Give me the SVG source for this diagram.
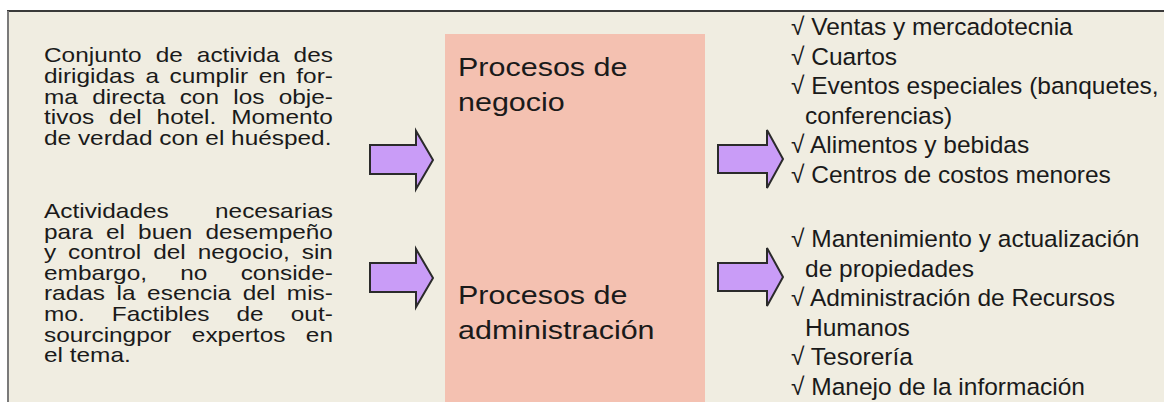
<svg xmlns="http://www.w3.org/2000/svg" width="1164" height="402" viewBox="0 0 1164 402">
  <defs>
    <style>
      .lt { font-family: "Liberation Sans", Arial, sans-serif; font-size: 20px; fill: #1a1a1a; }
      .ct { font-family: "Liberation Sans", Arial, sans-serif; font-size: 25px; fill: #1a1a1a; }
      .rt { font-family: "Liberation Sans", Arial, sans-serif; font-size: 24.5px; fill: #1a1a1a; }
      .arrow { fill: #c99cf7; stroke: #2b2b2b; stroke-width: 2; stroke-linejoin: miter; }
    </style>
  </defs>
  <rect x="0" y="0" width="1164" height="402" fill="#ffffff"/>
  <rect x="8" y="11" width="1156" height="391" fill="#f0ede1"/>
  <line x1="7" y1="11" x2="1164" y2="11" stroke="#3a3a3a" stroke-width="2"/>
  <line x1="8" y1="11" x2="8" y2="402" stroke="#7a7a7a" stroke-width="2"/>

  <g id="node-desc-negocio" transform="translate(44,0) scale(1.22,1)">
    <text class="lt" x="0" y="62" word-spacing="5.97">Conjunto de activida des</text>
    <text class="lt" x="0" y="83" word-spacing="3.1">dirigidas a cumplir en for-</text>
    <text class="lt" x="0" y="103.6" word-spacing="6.15">ma directa con los obje-</text>
    <text class="lt" x="0" y="124.4" word-spacing="6.7">tivos del hotel. Momento</text>
    <text class="lt" x="0" y="145.2">de verdad con el huésped.</text>
  </g>

  <g id="node-desc-admin" transform="translate(44,0) scale(1.22,1)">
    <text class="lt" x="0" y="218" word-spacing="32.4">Actividades necesarias</text>
    <text class="lt" x="0" y="238.6" word-spacing="5.22">para el buen desempeño</text>
    <text class="lt" x="0" y="259.2" word-spacing="4.2">y control del negocio, sin</text>
    <text class="lt" x="0" y="279.8" word-spacing="21.7">embargo, no conside-</text>
    <text class="lt" x="0" y="300.4" word-spacing="3.93">radas la esencia del mis-</text>
    <text class="lt" x="0" y="321" word-spacing="16.7">mo. Factibles de out-</text>
    <text class="lt" x="0" y="341.6" word-spacing="11.2">sourcingpor expertos en</text>
    <text class="lt" x="0" y="362.2">el tema.</text>
  </g>

  <g id="node-procesos">
    <rect x="445" y="34" width="260" height="370" fill="#f4c1b1"/>
    <g transform="translate(458,0) scale(1.22,1)">
      <text class="ct" x="0" y="76">Procesos de</text>
      <text class="ct" x="0" y="111">negocio</text>
      <text class="ct" x="0" y="304">Procesos de</text>
      <text class="ct" x="0" y="339">administración</text>
    </g>
  </g>

  <g id="node-list-negocio">
    <text class="rt" x="791" y="35">√ Ventas y mercadotecnia</text>
    <text class="rt" x="791" y="64.6">√ Cuartos</text>
    <text class="rt" x="791" y="94.2">√ Eventos especiales (banquetes,</text>
    <text class="rt" x="805" y="123.8">conferencias)</text>
    <text class="rt" x="791" y="153.4">√ Alimentos y bebidas</text>
    <text class="rt" x="791" y="183">√ Centros de costos menores</text>
  </g>

  <g id="node-list-admin">
    <text class="rt" x="791" y="247">√ Mantenimiento y actualización</text>
    <text class="rt" x="805" y="276.5">de propiedades</text>
    <text class="rt" x="791" y="306">√ Administración de Recursos</text>
    <text class="rt" x="805" y="335.5">Humanos</text>
    <text class="rt" x="791" y="365">√ Tesorería</text>
    <text class="rt" x="791" y="394.5">√ Manejo de la información</text>
  </g>

  <g id="connectors">
    <polygon class="arrow" points="370,145 416,145 416,131 433,160 416,189 416,174 370,174"/>
    <polygon class="arrow" points="370,263 416,263 416,249 433,278 416,307 416,292 370,292"/>
    <polygon class="arrow" points="718,145 767,145 767,130 783,159 767,188 767,173 718,173"/>
    <polygon class="arrow" points="718,263 767,263 767,248 783,277 767,306 767,291 718,291"/>
  </g>
</svg>
